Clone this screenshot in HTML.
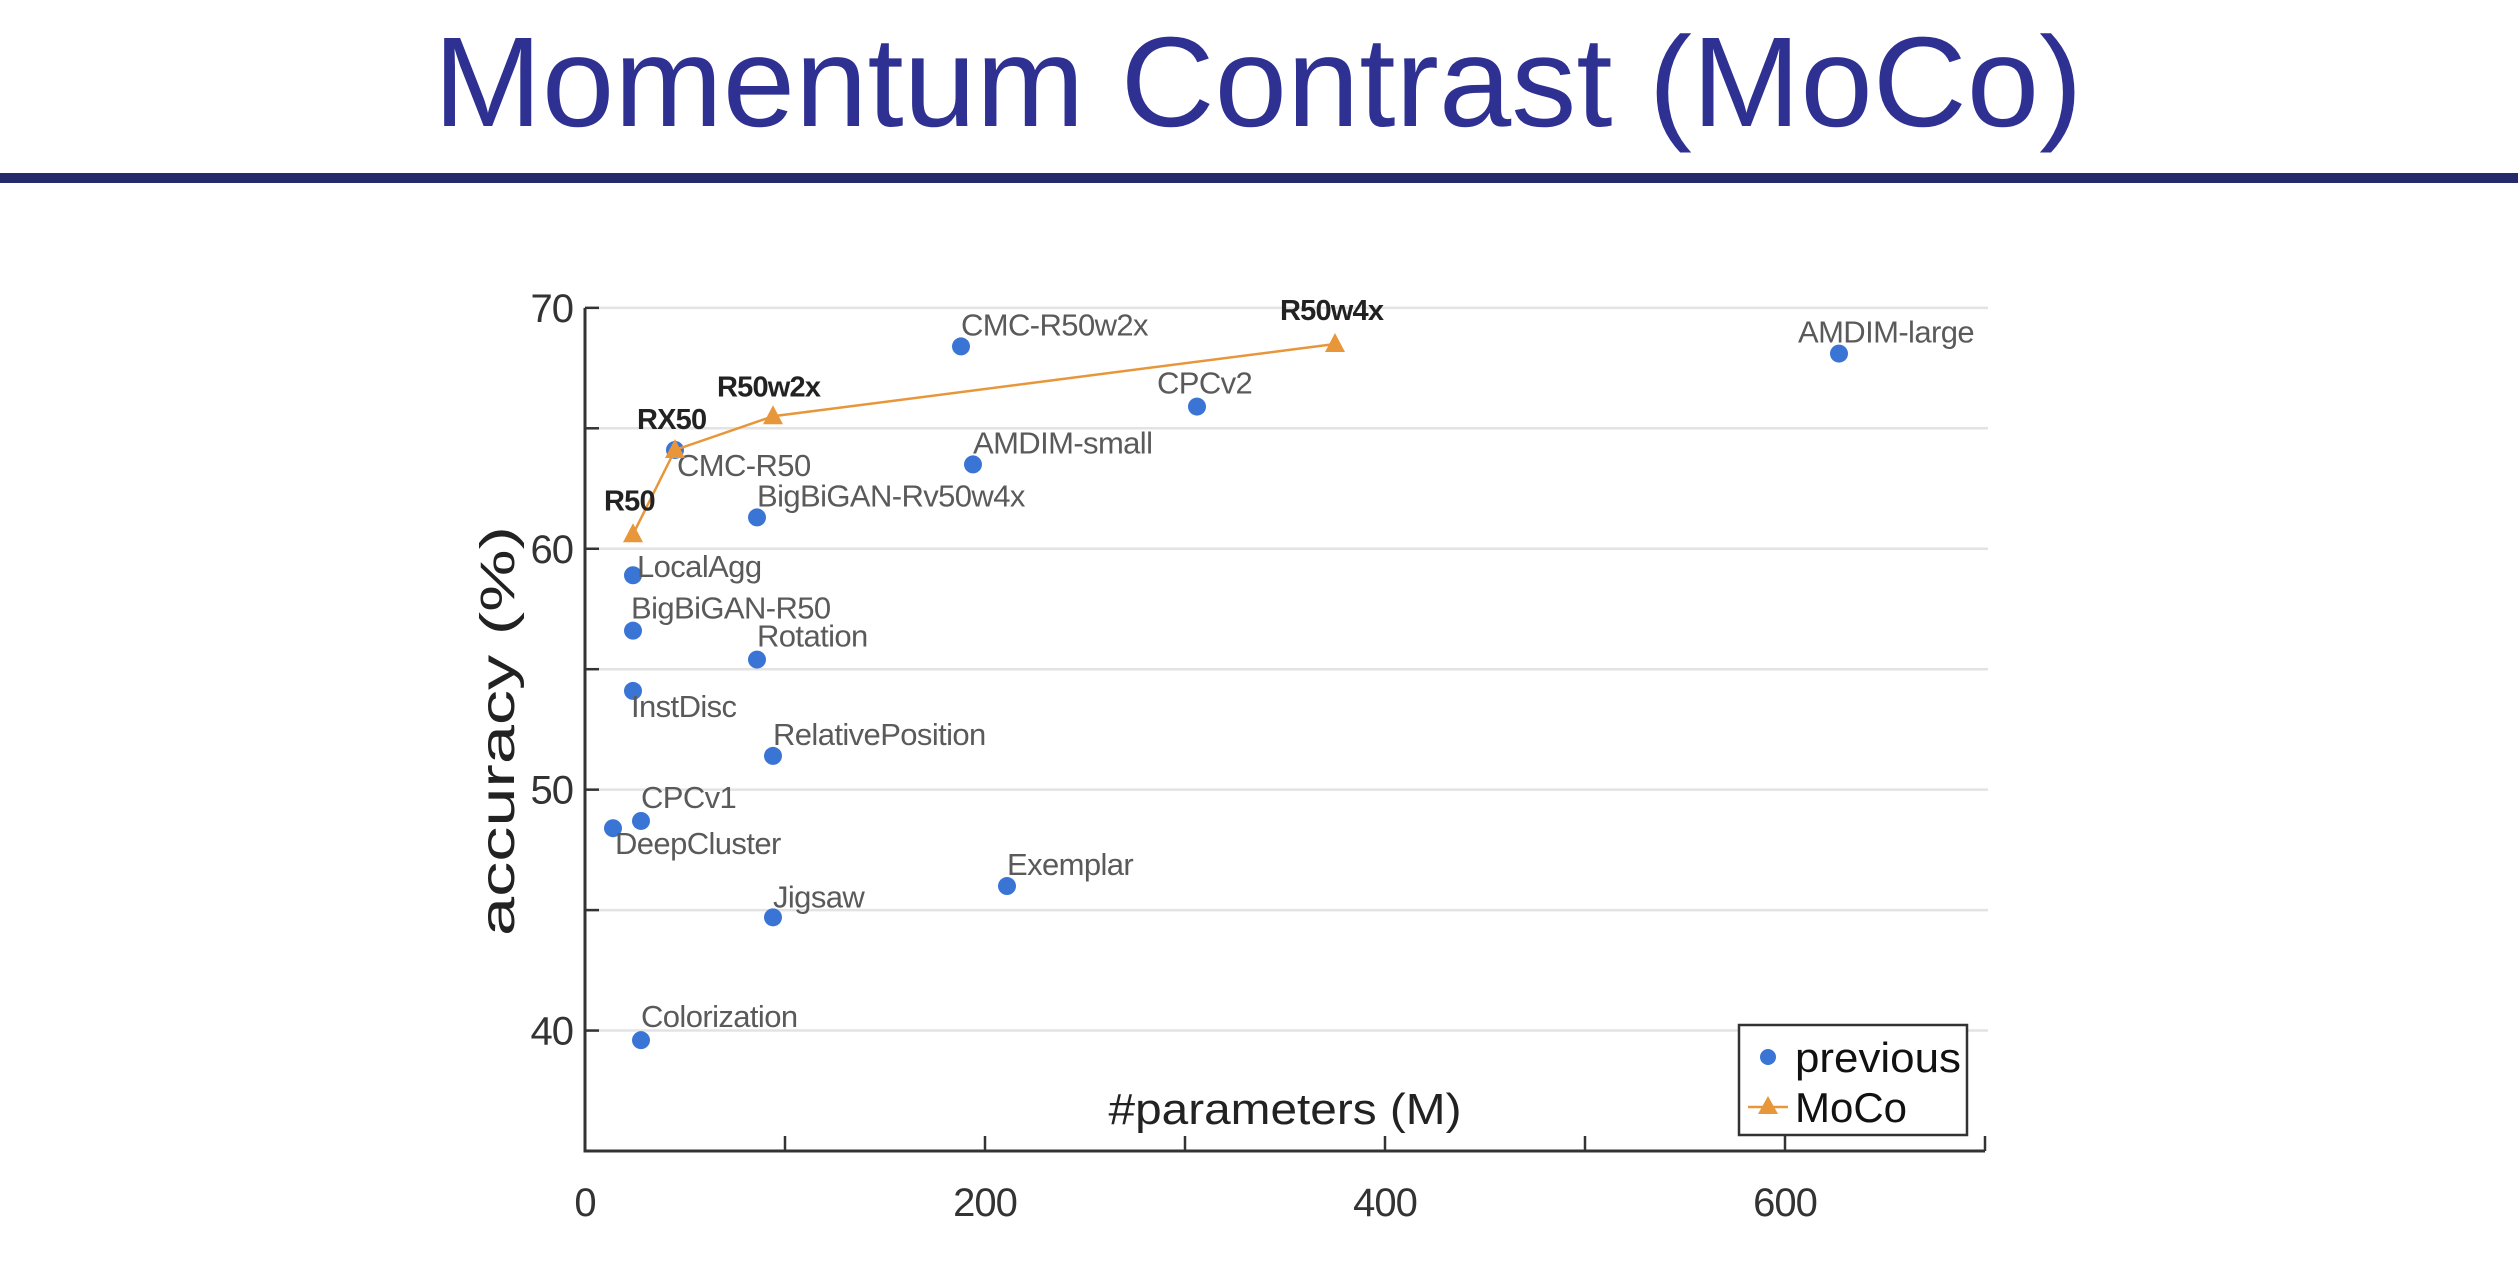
<!DOCTYPE html>
<html><head><meta charset="utf-8"><style>
html,body{margin:0;padding:0;background:#fff;width:2518px;height:1284px;overflow:hidden}
svg{display:block;font-family:"Liberation Sans",sans-serif}
</style></head><body>
<svg id="chart" width="2518" height="1284" viewBox="0 0 2518 1284">
<text x="1258" y="126" text-anchor="middle" font-size="128" fill="#2E3192" textLength="1649" lengthAdjust="spacingAndGlyphs">Momentum Contrast (MoCo)</text>
<rect x="0" y="173" width="2518" height="10" fill="#252A6B"/>
<g id="plot"></g>
</svg>
<script>
const prevNames=["CMC-R50w2x","AMDIM-large","CPCv2","AMDIM-small","CMC-R50","BigBiGAN-Rv50w4x","LocalAgg","BigBiGAN-R50","Rotation","InstDisc","RelativePosition","CPCv1","DeepCluster","Exemplar","Jigsaw","Colorization"];
const prevParams=[188,627,306,194,45,86,24,24,86,24,94,28,14,211,94,28];
const prevAcc=[68.4,68.1,65.9,63.5,64.1,61.3,58.9,56.6,55.4,54.1,51.4,48.7,48.4,46.0,44.7,39.6];
const mocoNames=["R50","RX50","R50w2x","R50w4x"];
const mocoParams=[24,45,94,375];
const mocoAcc=[60.6,64.1,65.5,68.5];
const xTicks=[0,100,200,300,400,500,600,700];
const xTickLabels=["0","","200","","400","","600",""];
const yTicks=[40,45,50,55,60,65,70];
const yTickLabels=["40","","50","","60","","70"];
</script>
<script>
const NS="http://www.w3.org/2000/svg";
const g=document.getElementById('plot');
const X0=585,XS=2.0,Y0=1151,YMIN=35,YS=24.09;
const sx=v=>X0+v*XS, sy=v=>Y0-(v-YMIN)*YS;
function mk(t,a,p){const e=document.createElementNS(NS,t);for(const k in a)e.setAttribute(k,a[k]);(p||g).appendChild(e);return e;}
const prevOff=[[0,-22],[-41,-22],[-40,-24],[0,-22],[2,15],[0,-22],[4,-9],[-2,-23],[0,-24],[-2,15],[0,-22],[0,-24],[2,15],[0,-22],[0,-21],[0,-24]];
const mocoOff=[[-29,-35],[-38,-32],[-56,-31],[-55,-35]];
yTicks.forEach((v,i)=>{
  const l=mk('line',{x1:X0,x2:1988,y1:sy(v),y2:sy(v),stroke:'#e3e3e3','stroke-width':2.5});
  
  
  const t=mk('line',{x1:X0,x2:X0+14,y1:sy(v),y2:sy(v),stroke:'#333','stroke-width':2.5});
  
  
  if(yTickLabels[i]){
    const tx=mk('text',{x:573,y:sy(v)+14,'text-anchor':'end','font-size':40,fill:'#333','letter-spacing':-1});
    tx.textContent=yTickLabels[i];
    
    
  }
});
xTicks.forEach((v,i)=>{
  const t=mk('line',{x1:sx(v),x2:sx(v),y1:Y0,y2:Y0-15,stroke:'#333','stroke-width':2.5});
  
  
  if(xTickLabels[i]){
    const tx=mk('text',{x:sx(v),y:1216,'text-anchor':'middle','font-size':40,fill:'#333','letter-spacing':-1});
    tx.textContent=xTickLabels[i];
    
    
  }
});
const ax=mk('path',{d:`M${X0} ${sy(70)} V${Y0} H${sx(700)}`,fill:'none',stroke:'#333','stroke-width':3});


prevNames.forEach((n,i)=>{
  const c=mk('circle',{cx:sx(prevParams[i]),cy:sy(prevAcc[i]),r:9,fill:'#3A75D6'});
  
  
  const t=mk('text',{x:sx(prevParams[i])+prevOff[i][0],y:sy(prevAcc[i])+prevOff[i][1]+11,'font-size':31,fill:'#5a5a5a','letter-spacing':-0.6});
  t.textContent=n;
  
  
});
const pl=mk('polyline',{points:mocoParams.map((p,i)=>sx(p)+','+sy(mocoAcc[i])).join(' '),fill:'none',stroke:'#E8963A','stroke-width':2.5});


mocoNames.forEach((n,i)=>{
  const x=sx(mocoParams[i]),y=sy(mocoAcc[i]);
  const tr=mk('path',{d:`M${x} ${y-11} L${x+10} ${y+8} L${x-10} ${y+8}Z`,fill:'#E8963A'});
  
  
  const t=mk('text',{x:x+mocoOff[i][0],y:y+mocoOff[i][1]+11,'font-size':29,'font-weight':'bold',fill:'#222','letter-spacing':-0.8});
  t.textContent=n;
  
  
});
const yt=mk('text',{x:0,y:0,'font-size':48,fill:'#222','text-anchor':'middle',textLength:410,lengthAdjust:'spacingAndGlyphs',transform:'translate(514,731) rotate(-90)'});
yt.textContent='accuracy (%)';


const xt=mk('text',{x:1285,y:1124,'font-size':44,fill:'#222','text-anchor':'middle',textLength:353,lengthAdjust:'spacingAndGlyphs'});
xt.textContent='#parameters (M)';


const lg=mk('g',{});


mk('rect',{x:1739,y:1025,width:228,height:110,fill:'#fff',stroke:'#333','stroke-width':2.5},lg);
const lc=mk('circle',{cx:1768,cy:1057,r:8,fill:'#3A75D6'},lg);


const l1=mk('text',{x:1795,y:1072,'font-size':42,fill:'#111',textLength:166,lengthAdjust:'spacingAndGlyphs'},lg);
l1.textContent='previous';


const ll=mk('line',{x1:1748,x2:1788,y1:1107,y2:1107,stroke:'#E8963A','stroke-width':2.5},lg);


const lt=mk('path',{d:'M1768 1096 L1778 1114 L1758 1114Z',fill:'#E8963A'},lg);


const l2=mk('text',{x:1795,y:1122,'font-size':42,fill:'#111'},lg);
l2.textContent='MoCo';


</script>
</body></html>
